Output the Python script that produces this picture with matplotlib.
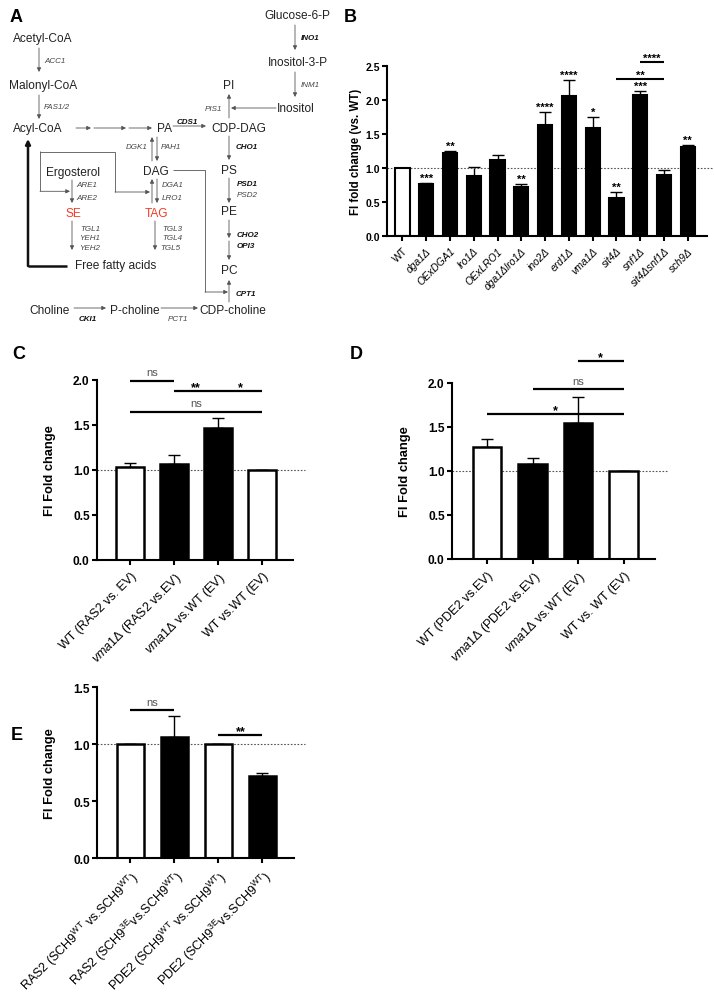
import matplotlib
matplotlib.use('Agg')
import matplotlib.pyplot as plt
import numpy as np

plt.rcParams['font.family'] = ['Liberation Sans', 'DejaVu Sans']
plt.rcParams['mathtext.fontset'] = 'custom'
plt.rcParams['mathtext.rm'] = 'Liberation Sans'
plt.rcParams['mathtext.it'] = 'Liberation Sans:italic'
plt.rcParams['mathtext.bf'] = 'Liberation Sans:bold'

# ---- panel B data
b_labels = ['WT', 'dga1Δ', 'OExDGA1', 'lro1Δ', 'OExLRO1', 'dga1Δlro1Δ', 'ino2Δ',
            'erd1Δ', 'vma1Δ', 'sit4Δ', 'snf1Δ', 'sit4Δsnf1Δ', 'sch9Δ']
b_vals = [1.0, 0.76, 1.22, 0.88, 1.12, 0.72, 1.63, 2.05, 1.58, 0.55, 2.07, 0.90, 1.31]
b_err = [0, 0.02, 0.03, 0.13, 0.07, 0.04, 0.19, 0.24, 0.17, 0.09, 0.06, 0.06, 0.03]
b_stars = ['', '***', '**', '', '', '**', '****', '****', '*', '**', '***', '', '**']
b_fill = ['white'] + ['black'] * 12
b_sig = [(9, 11, 2.31, '**'), (10, 11, 2.56, '****')]

# ---- panel C data
c_labels = ['WT (RAS2 vs. EV)', r'$\mathit{vma1}$Δ (RAS2 vs.EV)',
            r'$\mathit{vma1}$Δ vs.WT (EV)', 'WT vs.WT (EV)']
c_vals = [1.03, 1.07, 1.47, 1.0]
c_err = [0.05, 0.09, 0.11, 0]
c_fill = ['white', 'black', 'black', 'white']
c_sig = [(0, 1, 1.99, 'ns'), (1, 2, 1.88, '**'), (2, 3, 1.88, '*'), (0, 3, 1.645, 'ns')]

# ---- panel D data
d_labels = ['WT (PDE2 vs.EV)', r'$\mathit{vma1}$Δ (PDE2 vs.EV)',
            r'$\mathit{vma1}$Δ vs.WT (EV)', 'WT vs. WT (EV)']
d_vals = [1.27, 1.08, 1.54, 1.0]
d_err = [0.09, 0.07, 0.30, 0]
d_fill = ['white', 'black', 'black', 'white']
d_sig = [(2, 3, 2.25, '*'), (1, 3, 1.93, 'ns'), (0, 3, 1.65, '*')]

# ---- panel E data
e_labels = [r'RAS2 (SCH9$^{\mathrm{WT}}$ vs.SCH9$^{\mathrm{WT}}$)',
            r'RAS2 (SCH9$^{\mathrm{3E}}$vs.SCH9$^{\mathrm{WT}}$)',
            r'PDE2 (SCH9$^{\mathrm{WT}}$ vs.SCH9$^{\mathrm{WT}}$)',
            r'PDE2 (SCH9$^{\mathrm{3E}}$vs.SCH9$^{\mathrm{WT}}$)']
e_vals = [1.0, 1.06, 1.0, 0.72]
e_err = [0, 0.19, 0, 0.03]
e_fill = ['white', 'black', 'white', 'black']
e_sig = [(0, 1, 1.30, 'ns'), (2, 3, 1.085, '**')]

fig = plt.figure(figsize=(7.14, 10.03), dpi=100)

# ---- panel A: pathway scheme, drawn in pixel coordinates
ax0 = fig.add_axes([0, 0, 1, 1])
ax0.set_xlim(0, 714)
ax0.set_ylim(1003, 0)
ax0.axis('off')

MAIN = dict(fontsize=8.6, color='#222222', ha='center', va='center')
RED = '#f03c28'
nodes = [(43, 39, 'Acetyl-CoA'), (43.5, 86, 'Malonyl-CoA'), (38, 129, 'Acyl-CoA'),
         (164, 129, 'PA'), (239, 129, 'CDP-DAG'), (229, 86, 'PI'),
         (297, 15.7, 'Glucose-6-P'), (297.5, 63, 'Inositol-3-P'), (296, 109, 'Inositol'),
         (73, 172.7, 'Ergosterol'), (155.5, 172.3, 'DAG'), (229, 170.7, 'PS'),
         (229, 212.3, 'PE'), (116, 266, 'Free fatty acids'), (229, 271, 'PC'),
         (50, 311, 'Choline'), (135, 311, 'P-choline'), (232.7, 311, 'CDP-choline')]
for x, y, s in nodes:
    ax0.text(x, y, s, **MAIN)
ax0.text(73, 214.3, 'SE', fontsize=8.6, color=RED, ha='center', va='center')
ax0.text(156, 214.3, 'TAG', fontsize=8.6, color=RED, ha='center', va='center')

# gene names: (x, y, text, bold, ha)
genes = [(44, 61, 'ACC1', False, 'left'), (44, 107, 'FAS1/2', False, 'left'),
         (301, 38, 'INO1', True, 'left'), (301, 85, 'INM1', False, 'left'),
         (222, 109, 'PIS1', False, 'right'), (187, 122, 'CDS1', True, 'center'),
         (148, 147, 'DGK1', False, 'right'), (161, 147, 'PAH1', False, 'left'),
         (236, 147, 'CHO1', True, 'left'),
         (76, 185.7, 'ARE1', False, 'left'), (76, 198.3, 'ARE2', False, 'left'),
         (162, 185.3, 'DGA1', False, 'left'), (162, 198.3, 'LRO1', False, 'left'),
         (237, 184.3, 'PSD1', True, 'left'), (237, 195.7, 'PSD2', False, 'left'),
         (100, 229, 'TGL1', False, 'right'), (100, 238.7, 'YEH1', False, 'right'),
         (100, 248.3, 'YEH2', False, 'right'),
         (162, 229, 'TGL3', False, 'left'), (162, 238.7, 'TGL4', False, 'left'),
         (160, 248.3, 'TGL5', False, 'left'),
         (237, 235, 'CHO2', True, 'left'), (237, 246.7, 'OPI3', True, 'left'),
         (236, 294, 'CPT1', True, 'left'),
         (87.7, 319, 'CKI1', True, 'center'), (177.5, 319, 'PCT1', False, 'center')]
for x, y, s, bold, ha in genes:
    ax0.text(x, y, s, fontsize=5.8, style='italic', ha=ha, va='center',
             fontweight='bold' if bold else 'normal',
             color='#111111' if bold else '#444444')


def arrow(x0, y0, x1, y1, lw=0.6, color='#555555', ms=6):
    ax0.annotate('', xy=(x1, y1), xytext=(x0, y0),
                 arrowprops=dict(arrowstyle='-|>', lw=lw, color=color,
                                 shrinkA=0, shrinkB=0, mutation_scale=ms))


def line(xs, ys, lw=0.6, color='#555555'):
    ax0.plot(xs, ys, lw=lw, color=color, solid_capstyle='butt')


arrow(39, 49, 39, 73)
arrow(39, 96, 39, 120)
arrow(76, 129, 91, 129)
arrow(94, 129, 126, 129)
arrow(129, 129, 152, 129)
arrow(173, 127, 206, 127)
arrow(229, 119, 229, 95)
arrow(276, 109, 231, 109)
arrow(295, 26, 295, 51)
arrow(295, 73, 295, 98)
arrow(157, 138, 157, 162)
arrow(152, 162, 152, 138)
arrow(229, 137, 229, 161)
arrow(72, 181, 72, 204)
line([40, 40], [152, 192.3])
arrow(40, 192.3, 70, 192.3)
line([40, 115, 115], [153, 153, 193])
arrow(115, 193, 150, 193)
arrow(157, 180, 157, 204)
arrow(152, 204, 152, 180)
arrow(229, 179, 229, 204)
arrow(72, 222, 72, 251)
arrow(155, 222, 155, 251)
arrow(229, 221, 229, 239)
arrow(229, 242, 229, 261)
line([67, 28], [267, 267], lw=1.8, color='#111111')
arrow(28, 267, 28, 140, lw=1.8, color='#111111', ms=7)
line([173, 205, 205], [171, 171, 293])
arrow(205, 293, 228, 293)
arrow(229, 303, 229, 281)
arrow(74, 309, 106, 309)
arrow(161, 309, 198, 309)

# panel letters
for x, y, s in [(16, 17, 'A'), (350, 17, 'B'), (19, 354, 'C'), (356, 354, 'D'), (17, 735, 'E')]:
    ax0.text(x, y, s, fontsize=13, fontweight='bold', ha='center', va='center')


def bar_panel(rect, labels, vals, errs, fills, ymax, yticks, xlim, ylabel,
              lab_size, tick_size, ylab_size, lw, width, ylab_x):
    ax = fig.add_axes(rect)
    x = np.arange(len(vals))
    ax.bar(x, vals, width=width, color=fills, edgecolor='black', linewidth=lw, zorder=2)
    ax.errorbar(x, vals, yerr=[np.zeros(len(errs)), errs], fmt='none', ecolor='black',
                elinewidth=1.0, capsize=4, capthick=1.0, zorder=1)
    ax.plot([0, 1.06], [1, 1], transform=ax.get_yaxis_transform(), ls=(0, (1.5, 1.5)),
            color='#555555', lw=0.8, clip_on=False, zorder=1.5)
    ax.set_xlim(*xlim)
    ax.set_ylim(0, ymax)
    ax.set_yticks(yticks)
    ax.set_yticklabels(['%.1f' % t for t in yticks], fontweight='bold', fontsize=tick_size)
    ax.set_xticks(x)
    ax.set_xticklabels(labels, rotation=45, ha='right', va='top', rotation_mode='anchor',
                       fontsize=lab_size)
    ax.set_ylabel(ylabel, fontweight='bold', fontsize=ylab_size)
    ax.yaxis.set_label_coords(ylab_x, 0.5)
    for s in ['top', 'right']:
        ax.spines[s].set_visible(False)
    for s in ['left', 'bottom']:
        ax.spines[s].set_linewidth(1.5)
    ax.tick_params(direction='out', length=3.5, width=1.5)
    ax.tick_params(axis='y', pad=1.5)
    return ax


def sig_bars(ax, sigs, size=9, lw=1.6):
    for i0, i1, y, lab in sigs:
        ax.plot([i0, i1], [y, y], color='black', lw=lw, clip_on=False, solid_capstyle='butt')
        if lab == 'ns':
            ax.annotate(lab, xy=((i0 + i1) / 2, y), xytext=(0, 4), textcoords='offset points',
                        ha='center', va='baseline', fontsize=size - 1, color='#555555',
                        annotation_clip=False)
        else:
            ax.annotate(lab, xy=((i0 + i1) / 2, y), xytext=(0, 0.5), textcoords='offset points',
                        ha='center', va='baseline', fontsize=size, fontweight='bold',
                        annotation_clip=False)


# ---- panel B
axB = bar_panel([0.542, 0.764, 0.448, 0.1695], b_labels, b_vals, b_err, b_fill, 2.5,
                [0, 0.5, 1.0, 1.5, 2.0, 2.5], (-0.65, 12.8), 'FI fold change (vs. WT)',
                7.5, 7.5, 8.3, 1.5, 0.6, -0.078)
for lab in axB.get_xticklabels()[1:]:
    lab.set_fontstyle('italic')
for i, st in enumerate(b_stars):
    if st:
        axB.annotate(st, xy=(i, b_vals[i] + b_err[i]), xytext=(0, 1.5), textcoords='offset points',
                     ha='center', va='baseline', fontsize=8, fontweight='bold')
sig_bars(axB, b_sig, size=8, lw=1.5)

# ---- panel C
axC = bar_panel([0.1354, 0.441, 0.2754, 0.1792], c_labels, c_vals, c_err, c_fill, 2.0,
                [0, 0.5, 1.0, 1.5, 2.0], (-0.76, 3.71), 'FI Fold change',
                9, 8.6, 9.3, 1.8, 0.63, -0.207)
sig_bars(axC, c_sig)

# ---- panel D
axD = bar_panel([0.6326, 0.4417, 0.2847, 0.1755], d_labels, d_vals, d_err, d_fill, 2.0,
                [0, 0.5, 1.0, 1.5, 2.0], (-0.78, 3.69), 'FI Fold change',
                9, 8.6, 9.3, 1.8, 0.63, -0.2)
sig_bars(axD, d_sig)

# ---- panel E
axE = bar_panel([0.1359, 0.1433, 0.2754, 0.1705], e_labels, e_vals, e_err, e_fill, 1.5,
                [0, 0.5, 1.0, 1.5], (-0.76, 3.71), 'FI Fold change',
                9, 8.6, 9.3, 1.8, 0.63, -0.211)
sig_bars(axE, e_sig)

fig.savefig('out.png', dpi=100)
